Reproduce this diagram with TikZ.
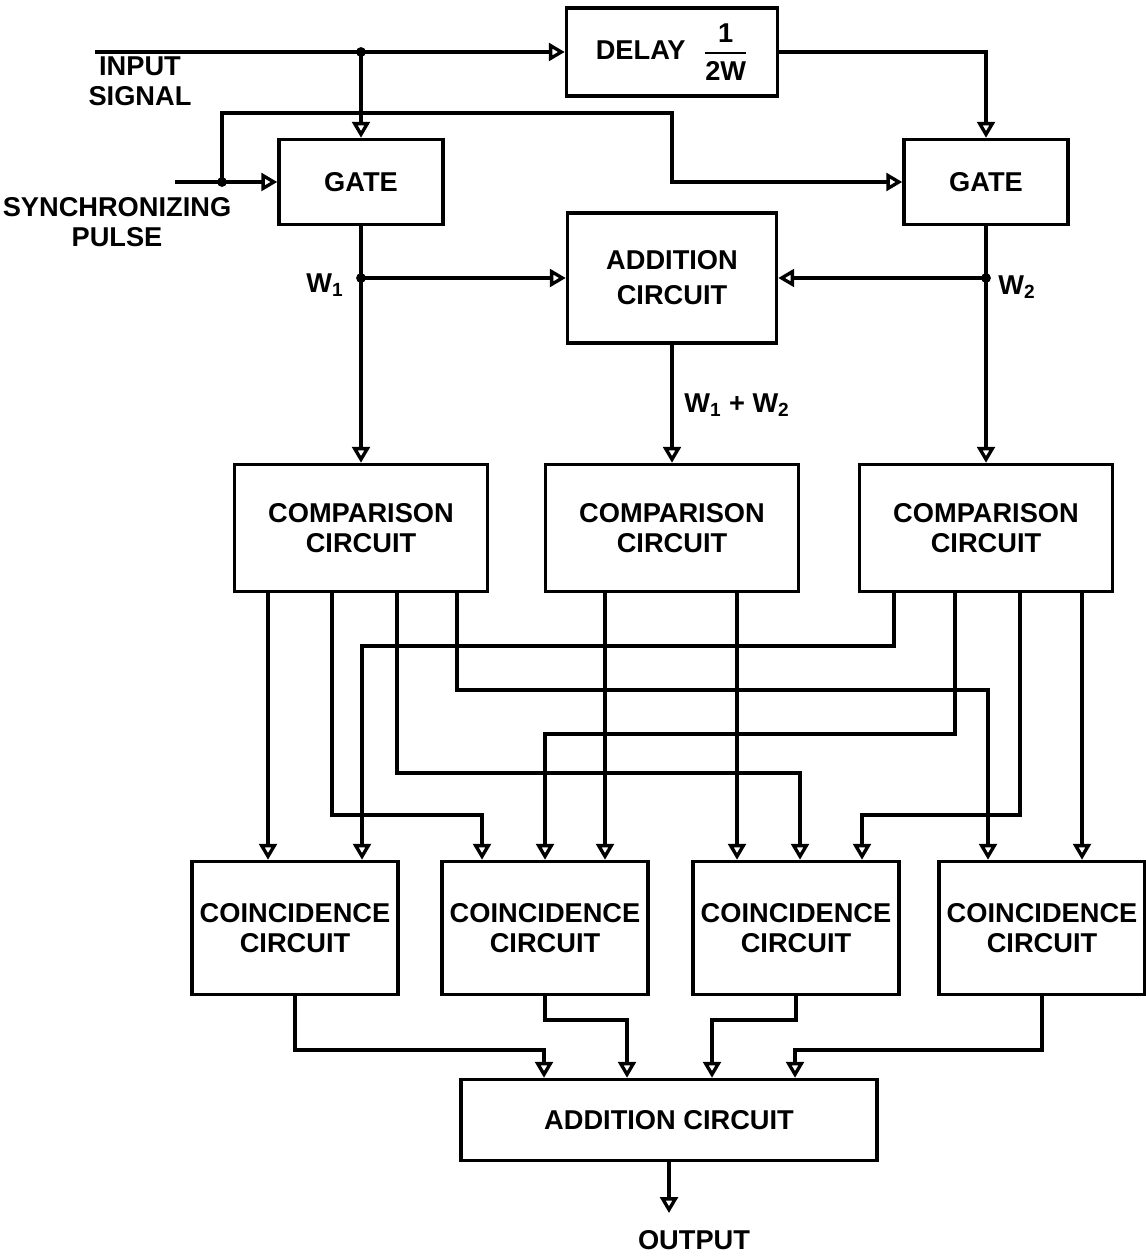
\documentclass[tikz,border=0pt]{standalone}
\usepackage{amsmath}
\usepackage{fontspec}
\setmainfont{Liberation Sans}
\usepackage{tikz}
\usetikzlibrary{arrows.meta}

\begin{document}
\begin{tikzpicture}[x=0.02cm,y=-0.02cm,
  every node/.style={font=\bfseries\fontsize{15.5}{17}\selectfont},
  box/.style={draw,line width=2pt,align=center,inner sep=0pt},
  sig/.style={line width=1.9pt,-{Triangle[open,length=9pt,width=10pt]}}]
  \useasboundingbox (0,0) rectangle (1145,1256);

  \node[box,minimum width=4.22cm,minimum height=1.76cm] (delay) at (672,52) {DELAY\hspace{10pt}$\genfrac{}{}{1.4pt}{0}{\mbox{1}}{\mbox{2W}}$};
  \node[box,minimum width=3.28cm,minimum height=1.7cm] (gate1) at (361,182) {GATE};
  \node[box,minimum width=3.28cm,minimum height=1.7cm] (gate2) at (986,182) {GATE};
  \node[box,minimum width=4.18cm,minimum height=2.6cm] (add1) at (672,278) {ADDITION\\[3pt]CIRCUIT};
  \foreach \n/\x in {cmpL/361,cmpM/672,cmpR/986}
    \node[box,minimum width=5.06cm,minimum height=2.54cm] (\n) at (\x,528) {COMPARISON\\CIRCUIT};
  \foreach \n/\x in {cc1/295,cc2/545,cc3/796,cc4/1042}
    \node[box,minimum width=4.12cm,minimum height=2.66cm] (\n) at (\x,928) {COINCIDENCE\\CIRCUIT};
  \node[box,minimum width=8.32cm,minimum height=1.62cm] (add2) at (669,1120) {ADDITION CIRCUIT};

  \node[align=center] (insig) at (140,81) {INPUT\\SIGNAL};
  \node[align=center] (sync) at (117,222) {SYNCHRONIZING\\PULSE};
  \node (w1lbl) at (325,285) {W\textsubscript{1}};
  \node (w2lbl) at (1017,287) {W\textsubscript{2}};
  \node (sumlbl) at (737,405) {W\textsubscript{1} + W\textsubscript{2}};
  \node (out) at (694,1240) {OUTPUT};

  \coordinate (inS) at (95,52);
  \coordinate (syS) at (175,0 |- gate1.west);
  \coordinate (jin) at (gate1.north |- delay.west);
  \coordinate (jsy) at (222,0 |- gate1.west);
  \coordinate (jw1) at (gate1.south |- add1.west);
  \coordinate (jw2) at (gate2.south |- add1.east);
  \coordinate (outT) at (add2.south |- 0,1213);

  \draw[sig] (inS) -- (delay.west);
  \draw[sig] (jin) -- (gate1.north);
  \draw[sig] (delay.east) -| (gate2.north);
  \draw[sig] (syS) -- (gate1.west);
  \draw[sig] (jsy) |- (672,113) |- (gate2.west);
  \draw[sig] (gate1.south) -- (cmpL.north);
  \draw[sig] (gate2.south) -- (cmpR.north);
  \draw[sig] (jw1) -- (add1.west);
  \draw[sig] (jw2) -- (add1.east);
  \draw[sig] (add1.south) -- (cmpM.north);
  \foreach \j in {jin,jsy,jw1,jw2}
    \fill (\j) circle (2.8pt);

  \foreach \p/\x/\b in {a1/268/cmpL,a2/332/cmpL,a3/397/cmpL,a4/457/cmpL,b1/605/cmpM,b2/737/cmpM,
                        c1/894/cmpR,c2/955/cmpR,c3/1020/cmpR,c4/1082/cmpR}
    \coordinate (\p) at (\x,0 |- \b.south);
  \foreach \p/\n in {a1/cc1,b1/cc2,b2/cc3,c4/cc4}
    \draw[sig] (\p) -- (\p |- \n.north);
  \foreach \p/\x/\y/\n in {a2/482/815/cc2,a3/800/773/cc3,a4/988/690/cc4,
                           c1/362/646/cc1,c2/545/734/cc2,c3/862/815/cc3}
    \draw[sig] (\p) -- (\p |- 0,\y) -| (\x,0 |- \n.north);

  \foreach \c/\x/\y in {cc1/544/1050,cc2/627/1020,cc3/712/1020,cc4/795/1050}
    \draw[sig] (\c.south) -- (\c.south |- 0,\y) -| (\x,0 |- add2.north);
  \draw[sig] (add2.south) -- (outT);
\end{tikzpicture}
\end{document}
